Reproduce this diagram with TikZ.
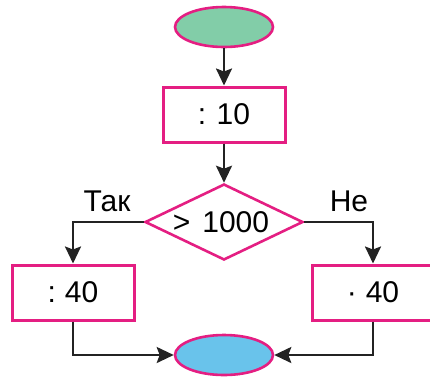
\documentclass[tikz,border=0pt]{standalone}
\usepackage{fontspec}
\setmainfont{Liberation Sans}
\usetikzlibrary{shapes.geometric,arrows.meta}
\definecolor{mag}{RGB}{228,30,130}
\definecolor{grn}{RGB}{130,205,168}
\definecolor{blu}{RGB}{105,195,235}
\definecolor{ln}{RGB}{35,35,35}
\tikzset{
  box/.style={draw=mag,line width=3pt,minimum width=122pt,minimum height=55pt,inner sep=0pt,font=\fontsize{30}{32}\selectfont},
  term/.style={draw=mag,line width=2.6pt,ellipse,minimum width=98pt,minimum height=40pt,inner sep=0pt},
  dec/.style={draw=mag,line width=2.6pt,diamond,aspect=2.08,minimum width=158pt,minimum height=76pt,inner sep=0pt},
  conn/.style={draw=ln,line width=2.4pt,-{Stealth[length=17pt,width=16pt,inset=3pt]}},
  lab/.style={font=\fontsize{30}{32}\selectfont,inner sep=0pt}
}
\begin{document}
\begin{tikzpicture}[x=1pt,y=-1pt]
\useasboundingbox (0,0) rectangle (430,376);
\clip (0,0) rectangle (430,376);
\node[term,fill=grn] (start) at (224,27) {};
\node[box] (b1) at (224,114.5) {:\hspace{0.35em}10};
\node[dec] (d) at (224,222) {};
\node[font=\fontsize{30}{32}\selectfont,inner sep=0pt] (dt) at (221,222) {>\hspace{0.4em}1000};
\node[box] (bl) at (73,292.5) {:\hspace{0.3em}40};
\node[box] (br) at (373,292.5) {·\hspace{0.3em}40};
\node[term,fill=blu] (end) at (224,355) {};
\node[lab] (yes) at (107,201) {Так};
\node[lab] (no) at (349,201) {Не};
\draw[conn] (start) -- (b1);
\draw[conn] (b1) -- (d);
\draw[conn] (d.west) -| (bl.north);
\draw[conn] (d.east) -| (br.north);
\draw[conn] (bl.south) |- (end.west);
\draw[conn] (br.south) |- (end.east);
\end{tikzpicture}
\end{document}
